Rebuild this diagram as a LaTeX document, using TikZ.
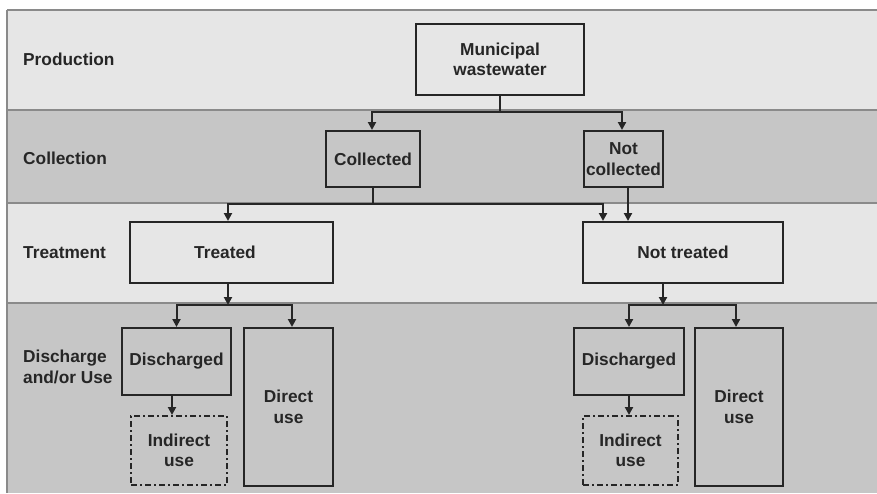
\documentclass[tikz,border=0pt]{standalone}
\usepackage{fontspec}
\setmainfont{Liberation Sans}
\usetikzlibrary{arrows.meta,calc}

\definecolor{bandlight}{HTML}{E6E6E6}
\definecolor{banddark}{HTML}{C6C6C6}
\definecolor{bandrule}{HTML}{8A8A8A}
\definecolor{ink}{HTML}{262626}

\tikzset{
  box/.style={draw=ink, line width=2pt, rectangle, inner sep=0pt, align=center,
              font=\bfseries\fontsize{17.3}{20.5}\selectfont, text=ink},
  openbox/.style={box, dash pattern=on 6pt off 3pt on 2pt off 3pt},
  rowlabel/.style={anchor=west, align=left, inner sep=0pt,
                   font=\bfseries\fontsize{17.3}{20.5}\selectfont, text=ink},
  link/.style={draw=ink, line width=2pt},
  flow/.style={link, -{Triangle[length=8pt,width=8pt]}},
  rule/.style={draw=bandrule, line width=2.5pt}
}

\begin{document}
\begin{tikzpicture}[x=1pt,y=-1pt]
  \useasboundingbox (0,0) rectangle (877,493);
  \fill[white] (0,0) rectangle (877,493);

  % horizontal bands
  \fill[bandlight] (7,10)  rectangle (877,110);
  \fill[banddark]  (7,110) rectangle (877,203);
  \fill[bandlight] (7,203) rectangle (877,303);
  \fill[banddark]  (7,303) rectangle (877,493);
  \foreach \yy in {10,110,203,303} \draw[rule] (7,\yy) -- (877,\yy);
  \draw[rule] (7,10) -- (7,493);

  % row labels
  \node[rowlabel] (lprod) at (23,59)  {Production};
  \node[rowlabel] (lcoll) at (23,158) {Collection};
  \node[rowlabel] (ltrea) at (23,253) {Treatment};
  \node[rowlabel] (ldisc) at (23,367) {Discharge\\and/or Use};

  % boxes
  \node[box, minimum width=168pt, minimum height=71pt] (mw)   at (500,59.5)  {Municipal\\wastewater};
  \node[box, minimum width=94pt,  minimum height=56pt] (col)  at (373,159)   {Collected};
  \node[box, minimum width=79pt,  minimum height=56pt] (ncol) at (623.5,159) {Not\\collected};
  \node[box, minimum width=203pt, minimum height=61pt] (trt)  at (231.5,252.5) {\hspace*{-13pt}Treated};
  \node[box, minimum width=200pt, minimum height=61pt] (ntrt) at (683,252.5) {Not treated};

  \node[box, minimum width=109pt, minimum height=67pt]  (dis1) at (176.5,361.5) {Discharged};
  \node[box, minimum width=89pt,  minimum height=158pt] (dir1) at (288.5,407)   {Direct\\use};
  \node[openbox, minimum width=96pt, minimum height=69pt] (ind1) at (179,450.5) {Indirect\\use};

  \node[box, minimum width=110pt, minimum height=67pt]  (dis2) at (629,361.5) {Discharged};
  \node[box, minimum width=88pt,  minimum height=158pt] (dir2) at (739,407)   {Direct\\use};
  \node[openbox, minimum width=95pt, minimum height=69pt] (ind2) at (630.5,450.5) {Indirect\\use};

  % production -> collection
  \draw[link] (mw.south) -- ++(0,16) coordinate (b1);
  \draw[flow] (b1) -| ([xshift=-1pt]col.north);
  \draw[flow] (b1) -| ([xshift=-1.5pt]ncol.north);

  % collection -> treatment
  \draw[link] (col.south) -- ++(0,16) coordinate (b2);
  \draw[flow] (b2) -| ([xshift=-3.5pt]trt.north);
  \draw[flow] (b2) -| ([xshift=-80pt]ntrt.north);
  \draw[flow] ([xshift=4.5pt]ncol.south) -- ([xshift=4.5pt]ncol.south |- ntrt.north);

  % treatment -> discharge / use
  \draw[flow] ([xshift=-3.5pt]trt.south) -- ++(0,21) coordinate (b3);
  \draw[flow] (b3) -| (dis1.north);
  \draw[flow] (b3) -| ([xshift=3.5pt]dir1.north);
  \draw[flow] ([xshift=-4.5pt]dis1.south) -- ([xshift=-4.5pt]dis1.south |- ind1.north);

  \draw[flow] ([xshift=-20pt]ntrt.south) -- ++(0,21) coordinate (b4);
  \draw[flow] (b4) -| (dis2.north);
  \draw[flow] (b4) -| ([xshift=-3pt]dir2.north);
  \draw[flow] (dis2.south) -- (dis2.south |- ind2.north);
\end{tikzpicture}
\end{document}
